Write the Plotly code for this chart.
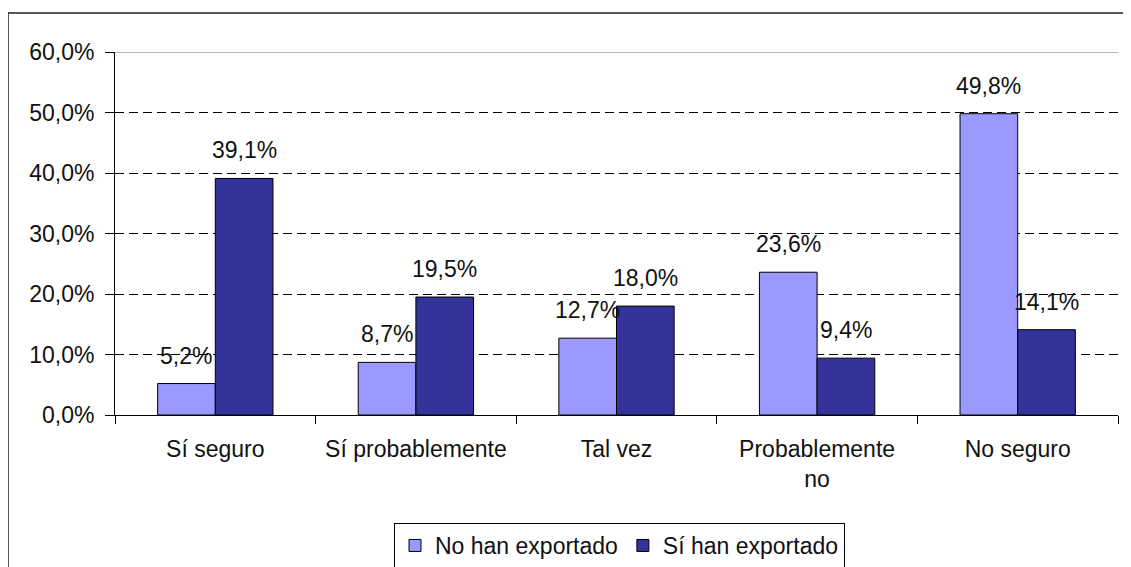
import plotly.graph_objects as go

categories = ["Sí seguro", "Sí probablemente", "Tal vez", "Probablemente<br>no", "No seguro"]
no_exportado = [5.2, 8.7, 12.7, 23.6, 49.8]
si_exportado = [39.1, 19.5, 18.0, 9.4, 14.1]
y_ticks = [0, 10, 20, 30, 40, 50, 60]
y_ticktext = ["0,0%", "10,0%", "20,0%", "30,0%", "40,0%", "50,0%", "60,0%"]

W, H = 1131, 567
L, R, T, B = 107, 21, 44, 160
pw, ph = W - L - R, H - T - B
BARGAP = 0.425

font = dict(family="Liberation Sans, Arial, sans-serif", size=23, color="#111111")

fig = go.Figure()
fig.add_trace(go.Bar(name="No han exportado", x=categories, y=no_exportado,
                     marker=dict(color="#9999FF", line=dict(color="black", width=1))))
fig.add_trace(go.Bar(name="Sí han exportado", x=categories, y=si_exportado,
                     marker=dict(color="#333399", line=dict(color="black", width=1))))

# value labels, positioned over each bar of the group
cat_px = pw / len(categories)
bar_px = cat_px * (1 - BARGAP) / 2
annotations = []
for series, shift in ((no_exportado, -bar_px / 2), (si_exportado, bar_px / 2)):
    for c, v in zip(categories, series):
        annotations.append(dict(x=c, y=v, xref="x", yref="y", xshift=shift, yshift=13,
                                text=f"{v:.1f}%".replace(".", ","), showarrow=False,
                                yanchor="bottom", xanchor="center", font=font))

fig.update_layout(
    width=W, height=H,
    margin=dict(l=L, r=R, t=T, b=B, autoexpand=False),
    paper_bgcolor="white", plot_bgcolor="white",
    font=font,
    barmode="group", bargap=BARGAP, bargroupgap=0,
    showlegend=True,
    legend=dict(orientation="h", x=(619.5 - 115) / pw, xanchor="center",
                y=-108 / ph, yanchor="top",
                bordercolor="black", borderwidth=1, bgcolor="white",
                font=font, itemwidth=30, traceorder="normal"),
    xaxis=dict(showline=True, linecolor="black", linewidth=1, ticks="outside",
               tickson="boundaries", ticklen=8, tickcolor="black", showgrid=False,
               tickfont=font, automargin=False, ticklabelstandoff=13),
    yaxis=dict(range=[0, 60], tickvals=y_ticks, ticktext=y_ticktext,
               showline=True, linecolor="black", linewidth=1, ticks="outside",
               ticklen=9, tickcolor="black", showgrid=True, gridcolor="black",
               gridwidth=1, griddash="9px,5px", zeroline=False, tickfont=font,
               automargin=False, ticklabelstandoff=6),
    annotations=annotations,
    shapes=[
        dict(type="line", xref="paper", yref="y", x0=0, x1=1, y0=60, y1=60,
             line=dict(color="#999999", width=1.5)),
        dict(type="rect", xref="paper", yref="paper",
             x0=(0 - L) / pw, x1=1.1, y0=-0.6, y1=1 + (T - 5) / ph,
             line=dict(color="#222222", width=1.5), layer="below"),
    ],
)

fig.write_html("out.html")
